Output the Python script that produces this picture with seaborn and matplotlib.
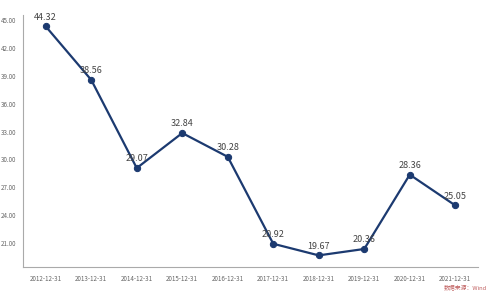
import matplotlib
matplotlib.use("Agg")
import matplotlib.pyplot as plt
import seaborn as sns
import pandas as pd

dates = ["2012-12-31", "2013-12-31", "2014-12-31", "2015-12-31", "2016-12-31",
         "2017-12-31", "2018-12-31", "2019-12-31", "2020-12-31", "2021-12-31"]
values = [44.32, 38.56, 29.07, 32.84, 30.28, 20.92, 19.67, 20.36, 28.36, 25.05]
yticks = [21, 24, 27, 30, 33, 36, 39, 42, 45]

sns.set_style("white")
plt.rcParams['font.family'] = ['Noto Sans CJK SC', 'DejaVu Sans']

df = pd.DataFrame({"date": dates, "value": values})
df["pos"] = range(len(df))

fig = plt.figure(figsize=(5, 2.91), dpi=100)
ax = fig.add_axes([0.046, 0.0825, 0.91, 0.866])
color = "#1c3a70"
sns.lineplot(data=df, x="pos", y="value", ax=ax, color=color, linewidth=1.6,
             marker="o", markersize=4.5, markeredgecolor=color, markerfacecolor=color)

for p, v in zip(df["pos"], df["value"]):
    ax.text(p, v + 0.5, f"{v:.2f}", ha="center", va="bottom", fontsize=6.5, color="#444444")

ax.set_xlim(-0.5, len(dates) - 0.5)
ax.set_ylim(18.42, 45.55)
ax.set_xticks(df["pos"])
ax.set_xticklabels(dates)
ax.set_yticks(yticks)
ax.set_yticklabels([f"{t:.2f}" for t in yticks])
ax.tick_params(axis="both", labelsize=4.5, colors="#888888", length=3, width=0.6, labelcolor="#666666", pad=2)
ax.tick_params(axis="x", pad=3)
ax.set_xlabel("")
ax.set_ylabel("")
for s in ["top", "right"]:
    ax.spines[s].set_visible(False)
for s in ["left", "bottom"]:
    ax.spines[s].set_color("#aaaaaa")
    ax.spines[s].set_linewidth(0.8)

fig.text(0.93, 0.012, "数据来源：Wind", ha="center", va="center", fontsize=4.2, color="#c06060")

fig.savefig("out.png", dpi=100)
